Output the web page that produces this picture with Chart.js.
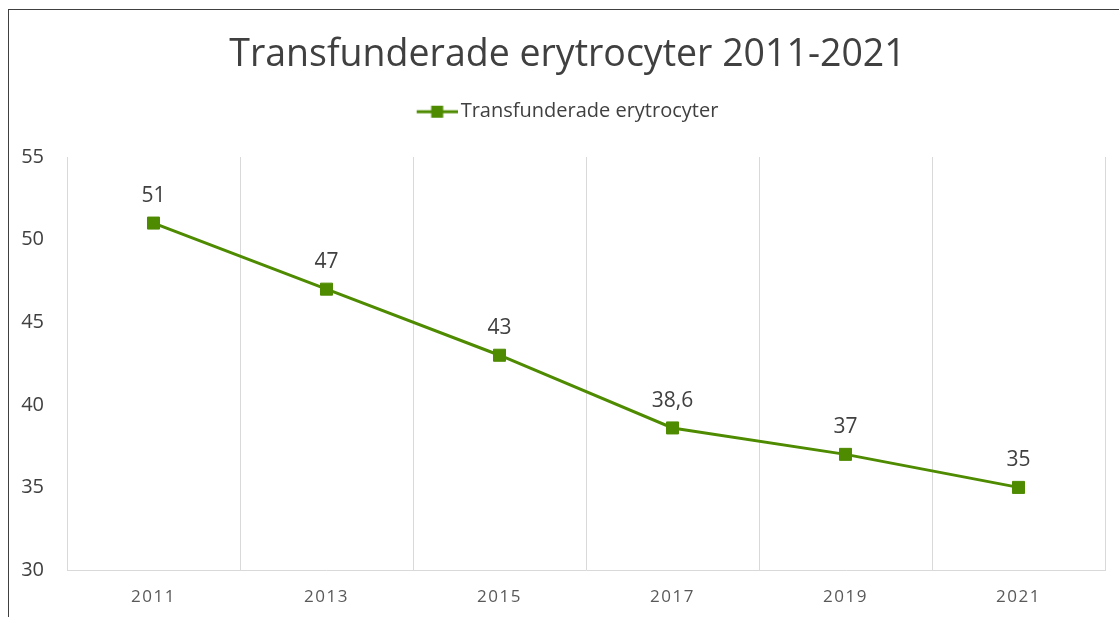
<!DOCTYPE html>
<html>
<head>
<meta charset="utf-8">
<script src="https://cdn.jsdelivr.net/npm/chart.js@4.4.1/dist/chart.umd.min.js"></script>
<style>
  html, body { margin: 0; padding: 0; background: #ffffff; }
  #wrap { position: relative; width: 1119px; height: 617px; overflow: hidden; }
  #frame { position: absolute; left: 8px; top: 9px; width: 1200px; height: 700px;
           border-left: 1px solid #404040; border-top: 1px solid #404040; pointer-events: none; }
  canvas { position: absolute; left: 0; top: 0; }
</style>
</head>
<body>
<div id="wrap">
  <canvas id="c" width="1119" height="617"></canvas>
  <div id="frame"></div>
</div>
<script>
const categories = ['2011', '2013', '2015', '2017', '2019', '2021'];
const seriesName = 'Transfunderade erytrocyter';
const seriesValues = [51, 47, 43, 38.6, 37, 35];
const chartTitle = 'Transfunderade erytrocyter 2011-2021';
const yMin = 30, yMax = 55, yStep = 5;

const GREEN = '#4E8B00';
const FONT = "'Open Sans', 'Noto Sans', sans-serif";

// legend symbol: line + square
const sym = document.createElement('canvas');
sym.width = 48; sym.height = 14;
(function () {
  const g = sym.getContext('2d');
  g.strokeStyle = GREEN; g.lineWidth = 3;
  g.beginPath(); g.moveTo(7, 7); g.lineTo(48, 7); g.stroke();
  g.fillStyle = GREEN; g.fillRect(21.5, 1, 12, 12);
})();

const dataLabels = {
  id: 'dataLabels',
  afterDatasetsDraw(chart) {
    const ctx = chart.ctx;
    const meta = chart.getDatasetMeta(0);
    ctx.save();
    ctx.font = "21px " + FONT;
    ctx.fillStyle = '#404040';
    ctx.textAlign = 'center';
    ctx.textBaseline = 'middle';
    meta.data.forEach((pt, i) => {
      const v = chart.data.datasets[0].data[i];
      ctx.fillText(String(v).replace('.', ','), pt.x, pt.y - 27);
    });
    ctx.restore();
  }
};

const legendSpace = {
  id: 'legendSpace',
  beforeInit(chart) {
    const origFit = chart.legend.fit;
    chart.legend.fit = function () {
      origFit.bind(chart.legend)();
      this.height += 25.3;
    };
  }
};

const axisTweaks = {
  id: 'axisTweaks',
  beforeDraw(chart) {
    const sx = chart.scales.x;
    if (sx && !sx._lsWrapped) {
      const orig = sx.drawLabels.bind(sx);
      sx.drawLabels = function (area) {
        const c = this.ctx;
        const prev = c.letterSpacing;
        c.letterSpacing = '1.5px';
        orig(area);
        c.letterSpacing = prev || '0px';
      };
      sx._lsWrapped = true;
    }
    const sy = chart.scales.y;
    if (sy) {
      // let the y tick labels extend left of the (narrow) scale box without clipping
      sy._computeLabelArea = function () { return undefined; };
    }
  }
};

new Chart(document.getElementById('c'), {
  type: 'line',
  data: {
    labels: categories,
    datasets: [{
      label: seriesName,
      data: seriesValues,
      borderColor: GREEN,
      backgroundColor: GREEN,
      borderWidth: 3,
      pointStyle: 'rect',
      pointRadius: 8.5,
      pointHoverRadius: 8.5,
      pointBorderWidth: 1,
      pointBorderColor: GREEN,
      pointBackgroundColor: GREEN,
      tension: 0,
      fill: false
    }]
  },
  options: {
    responsive: false,
    animation: false,
    layout: { padding: { left: 30, top: 9, right: 14, bottom: 0 } },
    plugins: {
      title: {
        display: true,
        text: chartTitle,
        color: '#404040',
        font: { family: FONT, size: 37.5, weight: 'normal' },
        padding: { top: 23.5, bottom: 14.2 }
      },
      legend: {
        display: true,
        position: 'top',
        labels: {
          usePointStyle: true,
          pointStyle: sym,
          pointStyleWidth: 34,
          color: '#404040',
          font: { family: FONT, size: 20 },
          padding: 10
        }
      },
      tooltip: { enabled: false }
    },
    scales: {
      x: {
        type: 'category',
        offset: true,
        grid: { display: true, offset: true, color: '#d9d9d9', lineWidth: 1, drawTicks: false },
        border: { display: true, color: '#d9d9d9', width: 1 },
        ticks: { color: '#595959', font: { family: FONT, size: 17 }, padding: 17 },
        afterFit(s) { s.height = 47; }
      },
      y: {
        min: yMin, max: yMax,
        grid: { display: false, drawTicks: false },
        border: { display: true, color: '#d9d9d9', width: 1 },
        ticks: { stepSize: yStep, color: '#404040', font: { family: FONT, size: 20 }, padding: 23 },
        afterFit(s) { s.width = 37; }
      }
    }
  },
  plugins: [dataLabels, legendSpace, axisTweaks]
});
</script>
</body>
</html>
